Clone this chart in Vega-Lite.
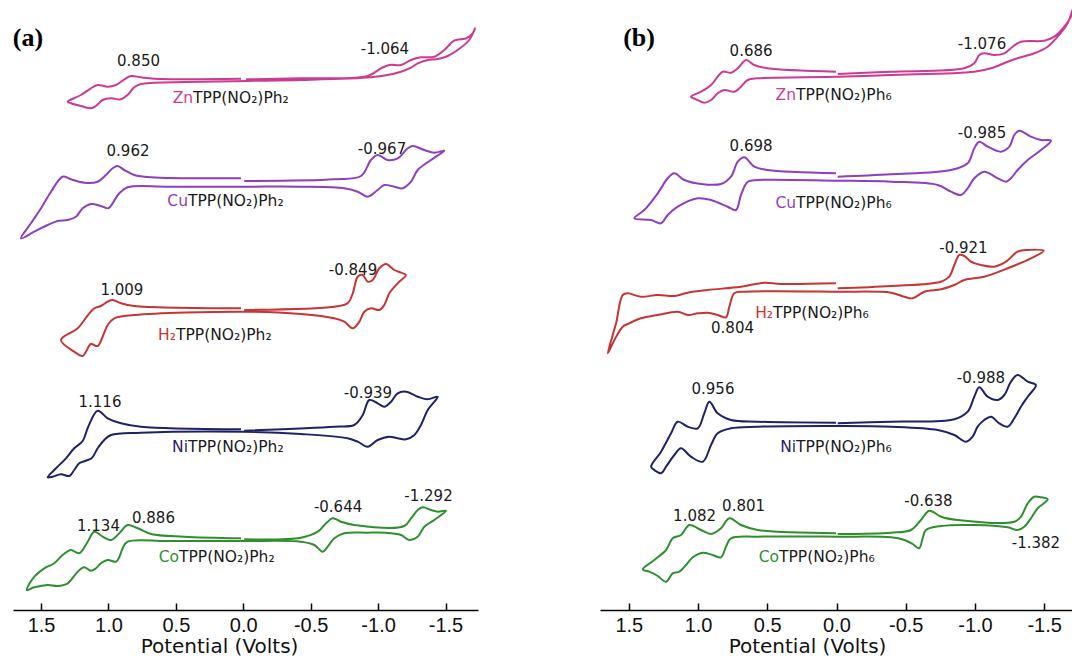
{
"$schema": "https://vega.github.io/schema/vega-lite/v6.json",
"padding": {"left": 12, "top": 0, "right": 0, "bottom": 0},
"spacing": 122,
"config": {"view": {"stroke": null}},
"datasets": {
"curves": [
{"p":"a","c":"Zn","i":0,"v":-0.020,"y":53.07},{"p":"a","c":"Zn","i":1,"v":-0.428,"y":53.17},{"p":"a","c":"Zn","i":2,"v":-0.923,"y":53.40},{"p":"a","c":"Zn","i":3,"v":-1.021,"y":54.17},{"p":"a","c":"Zn","i":4,"v":-1.083,"y":54.50},{"p":"a","c":"Zn","i":5,"v":-1.170,"y":54.50},{"p":"a","c":"Zn","i":6,"v":-1.244,"y":55.00},{"p":"a","c":"Zn","i":7,"v":-1.318,"y":55.27},{"p":"a","c":"Zn","i":8,"v":-1.417,"y":55.33},{"p":"a","c":"Zn","i":9,"v":-1.491,"y":56.00},{"p":"a","c":"Zn","i":10,"v":-1.565,"y":56.93},{"p":"a","c":"Zn","i":11,"v":-1.652,"y":57.17},{"p":"a","c":"Zn","i":12,"v":-1.702,"y":57.67},{"p":"a","c":"Zn","i":13,"v":-1.719,"y":58.17},{"p":"a","c":"Zn","i":14,"v":-1.676,"y":57.00},{"p":"a","c":"Zn","i":15,"v":-1.590,"y":56.00},{"p":"a","c":"Zn","i":16,"v":-1.516,"y":55.40},{"p":"a","c":"Zn","i":17,"v":-1.442,"y":55.10},{"p":"a","c":"Zn","i":18,"v":-1.368,"y":55.00},{"p":"a","c":"Zn","i":19,"v":-1.294,"y":54.67},{"p":"a","c":"Zn","i":20,"v":-1.244,"y":54.23},{"p":"a","c":"Zn","i":21,"v":-1.170,"y":53.83},{"p":"a","c":"Zn","i":22,"v":-1.071,"y":53.50},{"p":"a","c":"Zn","i":23,"v":-0.947,"y":53.27},{"p":"a","c":"Zn","i":24,"v":-0.428,"y":53.00},{"p":"a","c":"Zn","i":25,"v":-0.020,"y":52.90},{"p":"a","c":"Zn","i":26,"v":0.660,"y":52.73},{"p":"a","c":"Zn","i":27,"v":0.759,"y":52.60},{"p":"a","c":"Zn","i":28,"v":0.809,"y":52.27},{"p":"a","c":"Zn","i":29,"v":0.858,"y":51.50},{"p":"a","c":"Zn","i":30,"v":0.907,"y":51.07},{"p":"a","c":"Zn","i":31,"v":0.981,"y":51.17},{"p":"a","c":"Zn","i":32,"v":1.043,"y":51.00},{"p":"a","c":"Zn","i":33,"v":1.093,"y":50.40},{"p":"a","c":"Zn","i":34,"v":1.130,"y":50.17},{"p":"a","c":"Zn","i":35,"v":1.204,"y":50.40},{"p":"a","c":"Zn","i":36,"v":1.278,"y":50.67},{"p":"a","c":"Zn","i":37,"v":1.303,"y":50.83},{"p":"a","c":"Zn","i":38,"v":1.204,"y":51.50},{"p":"a","c":"Zn","i":39,"v":1.130,"y":52.17},{"p":"a","c":"Zn","i":40,"v":1.080,"y":52.50},{"p":"a","c":"Zn","i":41,"v":1.006,"y":52.33},{"p":"a","c":"Zn","i":42,"v":0.944,"y":52.50},{"p":"a","c":"Zn","i":43,"v":0.870,"y":53.17},{"p":"a","c":"Zn","i":44,"v":0.833,"y":53.40},{"p":"a","c":"Zn","i":45,"v":0.759,"y":53.27},{"p":"a","c":"Zn","i":46,"v":0.660,"y":53.13},{"p":"a","c":"Zn","i":47,"v":0.017,"y":53.13},
{"p":"a","c":"Cu","i":0,"v":-0.007,"y":42.90},{"p":"a","c":"Cu","i":1,"v":-0.675,"y":43.07},{"p":"a","c":"Cu","i":2,"v":-0.873,"y":43.40},{"p":"a","c":"Cu","i":3,"v":-0.947,"y":45.00},{"p":"a","c":"Cu","i":4,"v":-0.997,"y":45.50},{"p":"a","c":"Cu","i":5,"v":-1.071,"y":45.00},{"p":"a","c":"Cu","i":6,"v":-1.145,"y":45.17},{"p":"a","c":"Cu","i":7,"v":-1.220,"y":46.17},{"p":"a","c":"Cu","i":8,"v":-1.257,"y":46.40},{"p":"a","c":"Cu","i":9,"v":-1.343,"y":46.00},{"p":"a","c":"Cu","i":10,"v":-1.417,"y":45.73},{"p":"a","c":"Cu","i":11,"v":-1.491,"y":45.93},{"p":"a","c":"Cu","i":12,"v":-1.392,"y":45.00},{"p":"a","c":"Cu","i":13,"v":-1.294,"y":44.00},{"p":"a","c":"Cu","i":14,"v":-1.244,"y":42.83},{"p":"a","c":"Cu","i":15,"v":-1.182,"y":42.17},{"p":"a","c":"Cu","i":16,"v":-1.120,"y":42.33},{"p":"a","c":"Cu","i":17,"v":-1.046,"y":42.50},{"p":"a","c":"Cu","i":18,"v":-0.997,"y":42.00},{"p":"a","c":"Cu","i":19,"v":-0.923,"y":41.33},{"p":"a","c":"Cu","i":20,"v":-0.849,"y":41.83},{"p":"a","c":"Cu","i":21,"v":-0.749,"y":42.17},{"p":"a","c":"Cu","i":22,"v":-0.428,"y":42.33},{"p":"a","c":"Cu","i":23,"v":-0.007,"y":42.33},{"p":"a","c":"Cu","i":24,"v":0.561,"y":42.33},{"p":"a","c":"Cu","i":25,"v":0.858,"y":42.27},{"p":"a","c":"Cu","i":26,"v":0.920,"y":41.67},{"p":"a","c":"Cu","i":27,"v":0.969,"y":40.67},{"p":"a","c":"Cu","i":28,"v":1.001,"y":40.17},{"p":"a","c":"Cu","i":29,"v":1.056,"y":40.40},{"p":"a","c":"Cu","i":30,"v":1.130,"y":40.60},{"p":"a","c":"Cu","i":31,"v":1.191,"y":40.17},{"p":"a","c":"Cu","i":32,"v":1.241,"y":39.33},{"p":"a","c":"Cu","i":33,"v":1.303,"y":39.00},{"p":"a","c":"Cu","i":34,"v":1.377,"y":38.90},{"p":"a","c":"Cu","i":35,"v":1.451,"y":38.50},{"p":"a","c":"Cu","i":36,"v":1.550,"y":37.83},{"p":"a","c":"Cu","i":37,"v":1.649,"y":37.17},{"p":"a","c":"Cu","i":38,"v":1.575,"y":38.67},{"p":"a","c":"Cu","i":39,"v":1.500,"y":40.17},{"p":"a","c":"Cu","i":40,"v":1.426,"y":41.83},{"p":"a","c":"Cu","i":41,"v":1.340,"y":43.33},{"p":"a","c":"Cu","i":42,"v":1.278,"y":43.07},{"p":"a","c":"Cu","i":43,"v":1.180,"y":42.73},{"p":"a","c":"Cu","i":44,"v":1.080,"y":42.83},{"p":"a","c":"Cu","i":45,"v":1.019,"y":43.50},{"p":"a","c":"Cu","i":46,"v":0.969,"y":44.17},{"p":"a","c":"Cu","i":47,"v":0.932,"y":44.40},{"p":"a","c":"Cu","i":48,"v":0.883,"y":44.00},{"p":"a","c":"Cu","i":49,"v":0.809,"y":43.50},{"p":"a","c":"Cu","i":50,"v":0.685,"y":43.27},{"p":"a","c":"Cu","i":51,"v":0.017,"y":43.17},
{"p":"a","c":"H2","i":0,"v":-0.007,"y":30.00},{"p":"a","c":"H2","i":1,"v":-0.675,"y":30.33},{"p":"a","c":"H2","i":2,"v":-0.774,"y":30.67},{"p":"a","c":"H2","i":3,"v":-0.812,"y":31.67},{"p":"a","c":"H2","i":4,"v":-0.849,"y":33.33},{"p":"a","c":"H2","i":5,"v":-0.886,"y":33.50},{"p":"a","c":"H2","i":6,"v":-0.923,"y":32.83},{"p":"a","c":"H2","i":7,"v":-0.960,"y":33.00},{"p":"a","c":"H2","i":8,"v":-1.009,"y":34.17},{"p":"a","c":"H2","i":9,"v":-1.059,"y":34.60},{"p":"a","c":"H2","i":10,"v":-1.120,"y":34.00},{"p":"a","c":"H2","i":11,"v":-1.170,"y":33.73},{"p":"a","c":"H2","i":12,"v":-1.206,"y":33.50},{"p":"a","c":"H2","i":13,"v":-1.145,"y":32.67},{"p":"a","c":"H2","i":14,"v":-1.083,"y":31.67},{"p":"a","c":"H2","i":15,"v":-1.046,"y":30.50},{"p":"a","c":"H2","i":16,"v":-1.009,"y":30.00},{"p":"a","c":"H2","i":17,"v":-0.947,"y":30.17},{"p":"a","c":"H2","i":18,"v":-0.898,"y":29.83},{"p":"a","c":"H2","i":19,"v":-0.861,"y":28.83},{"p":"a","c":"H2","i":20,"v":-0.812,"y":28.17},{"p":"a","c":"H2","i":21,"v":-0.749,"y":28.83},{"p":"a","c":"H2","i":22,"v":-0.675,"y":29.17},{"p":"a","c":"H2","i":23,"v":-0.428,"y":29.60},{"p":"a","c":"H2","i":24,"v":-0.007,"y":29.83},{"p":"a","c":"H2","i":25,"v":0.809,"y":29.50},{"p":"a","c":"H2","i":26,"v":0.957,"y":29.17},{"p":"a","c":"H2","i":27,"v":1.006,"y":28.50},{"p":"a","c":"H2","i":28,"v":1.043,"y":27.33},{"p":"a","c":"H2","i":29,"v":1.080,"y":26.40},{"p":"a","c":"H2","i":30,"v":1.130,"y":26.60},{"p":"a","c":"H2","i":31,"v":1.167,"y":25.83},{"p":"a","c":"H2","i":32,"v":1.191,"y":25.40},{"p":"a","c":"H2","i":33,"v":1.254,"y":25.83},{"p":"a","c":"H2","i":34,"v":1.352,"y":27.00},{"p":"a","c":"H2","i":35,"v":1.228,"y":28.17},{"p":"a","c":"H2","i":36,"v":1.142,"y":29.67},{"p":"a","c":"H2","i":37,"v":1.105,"y":30.17},{"p":"a","c":"H2","i":38,"v":1.056,"y":30.40},{"p":"a","c":"H2","i":39,"v":1.006,"y":30.83},{"p":"a","c":"H2","i":40,"v":0.969,"y":31.00},{"p":"a","c":"H2","i":41,"v":0.907,"y":30.67},{"p":"a","c":"H2","i":42,"v":0.809,"y":30.40},{"p":"a","c":"H2","i":43,"v":0.017,"y":30.17},
{"p":"a","c":"Ni","i":0,"v":-0.007,"y":17.93},{"p":"a","c":"Ni","i":1,"v":-0.675,"y":18.33},{"p":"a","c":"Ni","i":2,"v":-0.823,"y":18.50},{"p":"a","c":"Ni","i":3,"v":-0.886,"y":19.50},{"p":"a","c":"Ni","i":4,"v":-0.935,"y":21.00},{"p":"a","c":"Ni","i":5,"v":-0.997,"y":20.67},{"p":"a","c":"Ni","i":6,"v":-1.046,"y":20.33},{"p":"a","c":"Ni","i":7,"v":-1.096,"y":20.83},{"p":"a","c":"Ni","i":8,"v":-1.145,"y":21.67},{"p":"a","c":"Ni","i":9,"v":-1.207,"y":21.83},{"p":"a","c":"Ni","i":10,"v":-1.294,"y":21.33},{"p":"a","c":"Ni","i":11,"v":-1.368,"y":21.07},{"p":"a","c":"Ni","i":12,"v":-1.442,"y":21.33},{"p":"a","c":"Ni","i":13,"v":-1.368,"y":20.00},{"p":"a","c":"Ni","i":14,"v":-1.318,"y":18.50},{"p":"a","c":"Ni","i":15,"v":-1.269,"y":17.50},{"p":"a","c":"Ni","i":16,"v":-1.207,"y":17.07},{"p":"a","c":"Ni","i":17,"v":-1.145,"y":17.17},{"p":"a","c":"Ni","i":18,"v":-1.083,"y":17.33},{"p":"a","c":"Ni","i":19,"v":-0.997,"y":17.00},{"p":"a","c":"Ni","i":20,"v":-0.923,"y":16.33},{"p":"a","c":"Ni","i":21,"v":-0.849,"y":16.83},{"p":"a","c":"Ni","i":22,"v":-0.774,"y":17.17},{"p":"a","c":"Ni","i":23,"v":-0.428,"y":17.60},{"p":"a","c":"Ni","i":24,"v":-0.007,"y":17.83},{"p":"a","c":"Ni","i":25,"v":0.759,"y":17.73},{"p":"a","c":"Ni","i":26,"v":0.981,"y":17.50},{"p":"a","c":"Ni","i":27,"v":1.031,"y":17.00},{"p":"a","c":"Ni","i":28,"v":1.080,"y":16.17},{"p":"a","c":"Ni","i":29,"v":1.125,"y":15.17},{"p":"a","c":"Ni","i":30,"v":1.167,"y":14.93},{"p":"a","c":"Ni","i":31,"v":1.217,"y":14.67},{"p":"a","c":"Ni","i":32,"v":1.254,"y":14.00},{"p":"a","c":"Ni","i":33,"v":1.291,"y":13.40},{"p":"a","c":"Ni","i":34,"v":1.352,"y":13.57},{"p":"a","c":"Ni","i":35,"v":1.414,"y":13.33},{"p":"a","c":"Ni","i":36,"v":1.451,"y":13.27},{"p":"a","c":"Ni","i":37,"v":1.389,"y":14.17},{"p":"a","c":"Ni","i":38,"v":1.315,"y":15.17},{"p":"a","c":"Ni","i":39,"v":1.254,"y":16.17},{"p":"a","c":"Ni","i":40,"v":1.191,"y":16.90},{"p":"a","c":"Ni","i":41,"v":1.150,"y":18.33},{"p":"a","c":"Ni","i":42,"v":1.080,"y":19.93},{"p":"a","c":"Ni","i":43,"v":1.006,"y":19.17},{"p":"a","c":"Ni","i":44,"v":0.907,"y":18.67},{"p":"a","c":"Ni","i":45,"v":0.759,"y":18.33},{"p":"a","c":"Ni","i":46,"v":0.017,"y":18.07},
{"p":"a","c":"Co","i":0,"v":-0.007,"y":7.07},{"p":"a","c":"Co","i":1,"v":-0.428,"y":7.23},{"p":"a","c":"Co","i":2,"v":-0.552,"y":7.83},{"p":"a","c":"Co","i":3,"v":-0.614,"y":8.67},{"p":"a","c":"Co","i":4,"v":-0.663,"y":9.17},{"p":"a","c":"Co","i":5,"v":-0.725,"y":8.83},{"p":"a","c":"Co","i":6,"v":-0.823,"y":8.50},{"p":"a","c":"Co","i":7,"v":-1.194,"y":8.40},{"p":"a","c":"Co","i":8,"v":-1.244,"y":9.17},{"p":"a","c":"Co","i":9,"v":-1.294,"y":10.00},{"p":"a","c":"Co","i":10,"v":-1.331,"y":10.27},{"p":"a","c":"Co","i":11,"v":-1.392,"y":10.00},{"p":"a","c":"Co","i":12,"v":-1.442,"y":9.83},{"p":"a","c":"Co","i":13,"v":-1.504,"y":9.93},{"p":"a","c":"Co","i":14,"v":-1.417,"y":9.00},{"p":"a","c":"Co","i":15,"v":-1.343,"y":8.33},{"p":"a","c":"Co","i":16,"v":-1.294,"y":7.33},{"p":"a","c":"Co","i":17,"v":-1.231,"y":7.00},{"p":"a","c":"Co","i":18,"v":-1.170,"y":7.50},{"p":"a","c":"Co","i":19,"v":-1.046,"y":7.73},{"p":"a","c":"Co","i":20,"v":-0.923,"y":7.73},{"p":"a","c":"Co","i":21,"v":-0.749,"y":7.67},{"p":"a","c":"Co","i":22,"v":-0.675,"y":7.17},{"p":"a","c":"Co","i":23,"v":-0.626,"y":6.33},{"p":"a","c":"Co","i":24,"v":-0.589,"y":5.83},{"p":"a","c":"Co","i":25,"v":-0.527,"y":6.50},{"p":"a","c":"Co","i":26,"v":-0.428,"y":6.83},{"p":"a","c":"Co","i":27,"v":-0.007,"y":6.90},{"p":"a","c":"Co","i":28,"v":0.561,"y":6.90},{"p":"a","c":"Co","i":29,"v":0.858,"y":6.83},{"p":"a","c":"Co","i":30,"v":0.895,"y":6.17},{"p":"a","c":"Co","i":31,"v":0.920,"y":5.27},{"p":"a","c":"Co","i":32,"v":0.944,"y":4.83},{"p":"a","c":"Co","i":33,"v":1.006,"y":5.00},{"p":"a","c":"Co","i":34,"v":1.056,"y":4.67},{"p":"a","c":"Co","i":35,"v":1.093,"y":4.17},{"p":"a","c":"Co","i":36,"v":1.130,"y":3.93},{"p":"a","c":"Co","i":37,"v":1.180,"y":4.27},{"p":"a","c":"Co","i":38,"v":1.228,"y":3.83},{"p":"a","c":"Co","i":39,"v":1.303,"y":2.67},{"p":"a","c":"Co","i":40,"v":1.377,"y":2.40},{"p":"a","c":"Co","i":41,"v":1.451,"y":2.50},{"p":"a","c":"Co","i":42,"v":1.550,"y":2.27},{"p":"a","c":"Co","i":43,"v":1.605,"y":2.00},{"p":"a","c":"Co","i":44,"v":1.550,"y":3.33},{"p":"a","c":"Co","i":45,"v":1.476,"y":4.17},{"p":"a","c":"Co","i":46,"v":1.402,"y":4.67},{"p":"a","c":"Co","i":47,"v":1.340,"y":5.50},{"p":"a","c":"Co","i":48,"v":1.278,"y":6.00},{"p":"a","c":"Co","i":49,"v":1.217,"y":5.67},{"p":"a","c":"Co","i":50,"v":1.154,"y":6.83},{"p":"a","c":"Co","i":51,"v":1.105,"y":7.83},{"p":"a","c":"Co","i":52,"v":1.043,"y":7.33},{"p":"a","c":"Co","i":53,"v":0.981,"y":7.00},{"p":"a","c":"Co","i":54,"v":0.920,"y":7.67},{"p":"a","c":"Co","i":55,"v":0.858,"y":8.50},{"p":"a","c":"Co","i":56,"v":0.783,"y":8.17},{"p":"a","c":"Co","i":57,"v":0.685,"y":7.60},{"p":"a","c":"Co","i":58,"v":0.438,"y":7.33},{"p":"a","c":"Co","i":59,"v":0.017,"y":7.17},
{"p":"b","c":"Zn","i":0,"v":-0.009,"y":53.60},{"p":"b","c":"Zn","i":1,"v":-0.394,"y":53.83},{"p":"b","c":"Zn","i":2,"v":-0.923,"y":54.17},{"p":"b","c":"Zn","i":3,"v":-0.995,"y":54.67},{"p":"b","c":"Zn","i":4,"v":-1.031,"y":55.50},{"p":"b","c":"Zn","i":5,"v":-1.067,"y":55.67},{"p":"b","c":"Zn","i":6,"v":-1.139,"y":55.50},{"p":"b","c":"Zn","i":7,"v":-1.212,"y":55.67},{"p":"b","c":"Zn","i":8,"v":-1.272,"y":56.33},{"p":"b","c":"Zn","i":9,"v":-1.332,"y":56.83},{"p":"b","c":"Zn","i":10,"v":-1.500,"y":56.93},{"p":"b","c":"Zn","i":11,"v":-1.573,"y":57.33},{"p":"b","c":"Zn","i":12,"v":-1.645,"y":58.33},{"p":"b","c":"Zn","i":13,"v":-1.693,"y":59.33},{"p":"b","c":"Zn","i":14,"v":-1.708,"y":60.17},{"p":"b","c":"Zn","i":15,"v":-1.669,"y":58.67},{"p":"b","c":"Zn","i":16,"v":-1.597,"y":57.33},{"p":"b","c":"Zn","i":17,"v":-1.525,"y":56.33},{"p":"b","c":"Zn","i":18,"v":-1.428,"y":55.67},{"p":"b","c":"Zn","i":19,"v":-1.308,"y":55.17},{"p":"b","c":"Zn","i":20,"v":-1.236,"y":54.83},{"p":"b","c":"Zn","i":21,"v":-1.116,"y":54.17},{"p":"b","c":"Zn","i":22,"v":-0.995,"y":53.83},{"p":"b","c":"Zn","i":23,"v":-0.394,"y":53.50},{"p":"b","c":"Zn","i":24,"v":-0.009,"y":53.33},{"p":"b","c":"Zn","i":25,"v":0.569,"y":53.17},{"p":"b","c":"Zn","i":26,"v":0.641,"y":53.00},{"p":"b","c":"Zn","i":27,"v":0.690,"y":52.33},{"p":"b","c":"Zn","i":28,"v":0.738,"y":51.83},{"p":"b","c":"Zn","i":29,"v":0.810,"y":52.00},{"p":"b","c":"Zn","i":30,"v":0.858,"y":51.67},{"p":"b","c":"Zn","i":31,"v":0.906,"y":51.00},{"p":"b","c":"Zn","i":32,"v":0.955,"y":50.73},{"p":"b","c":"Zn","i":33,"v":1.014,"y":51.07},{"p":"b","c":"Zn","i":34,"v":1.051,"y":51.33},{"p":"b","c":"Zn","i":35,"v":0.978,"y":51.83},{"p":"b","c":"Zn","i":36,"v":0.906,"y":52.50},{"p":"b","c":"Zn","i":37,"v":0.858,"y":53.33},{"p":"b","c":"Zn","i":38,"v":0.822,"y":53.83},{"p":"b","c":"Zn","i":39,"v":0.762,"y":53.73},{"p":"b","c":"Zn","i":40,"v":0.713,"y":54.17},{"p":"b","c":"Zn","i":41,"v":0.653,"y":55.00},{"p":"b","c":"Zn","i":42,"v":0.594,"y":54.50},{"p":"b","c":"Zn","i":43,"v":0.497,"y":54.17},{"p":"b","c":"Zn","i":44,"v":0.004,"y":53.83},
{"p":"b","c":"Cu","i":0,"v":-0.009,"y":43.33},{"p":"b","c":"Cu","i":1,"v":-0.394,"y":43.57},{"p":"b","c":"Cu","i":2,"v":-0.827,"y":44.00},{"p":"b","c":"Cu","i":3,"v":-0.947,"y":44.67},{"p":"b","c":"Cu","i":4,"v":-0.995,"y":46.17},{"p":"b","c":"Cu","i":5,"v":-1.031,"y":46.83},{"p":"b","c":"Cu","i":6,"v":-1.092,"y":46.33},{"p":"b","c":"Cu","i":7,"v":-1.188,"y":45.83},{"p":"b","c":"Cu","i":8,"v":-1.248,"y":46.33},{"p":"b","c":"Cu","i":9,"v":-1.284,"y":47.50},{"p":"b","c":"Cu","i":10,"v":-1.320,"y":47.93},{"p":"b","c":"Cu","i":11,"v":-1.404,"y":47.33},{"p":"b","c":"Cu","i":12,"v":-1.477,"y":47.00},{"p":"b","c":"Cu","i":13,"v":-1.549,"y":46.93},{"p":"b","c":"Cu","i":14,"v":-1.477,"y":46.00},{"p":"b","c":"Cu","i":15,"v":-1.381,"y":45.00},{"p":"b","c":"Cu","i":16,"v":-1.308,"y":44.00},{"p":"b","c":"Cu","i":17,"v":-1.260,"y":43.17},{"p":"b","c":"Cu","i":18,"v":-1.224,"y":42.83},{"p":"b","c":"Cu","i":19,"v":-1.164,"y":43.17},{"p":"b","c":"Cu","i":20,"v":-1.067,"y":43.83},{"p":"b","c":"Cu","i":21,"v":-0.995,"y":43.17},{"p":"b","c":"Cu","i":22,"v":-0.947,"y":42.17},{"p":"b","c":"Cu","i":23,"v":-0.899,"y":41.50},{"p":"b","c":"Cu","i":24,"v":-0.827,"y":41.83},{"p":"b","c":"Cu","i":25,"v":-0.731,"y":42.50},{"p":"b","c":"Cu","i":26,"v":-0.394,"y":42.83},{"p":"b","c":"Cu","i":27,"v":-0.009,"y":42.93},{"p":"b","c":"Cu","i":28,"v":0.569,"y":43.00},{"p":"b","c":"Cu","i":29,"v":0.641,"y":42.83},{"p":"b","c":"Cu","i":30,"v":0.690,"y":41.50},{"p":"b","c":"Cu","i":31,"v":0.726,"y":40.00},{"p":"b","c":"Cu","i":32,"v":0.786,"y":40.33},{"p":"b","c":"Cu","i":33,"v":0.906,"y":41.00},{"p":"b","c":"Cu","i":34,"v":1.002,"y":41.17},{"p":"b","c":"Cu","i":35,"v":1.147,"y":40.33},{"p":"b","c":"Cu","i":36,"v":1.219,"y":39.50},{"p":"b","c":"Cu","i":37,"v":1.267,"y":38.67},{"p":"b","c":"Cu","i":38,"v":1.339,"y":39.00},{"p":"b","c":"Cu","i":39,"v":1.460,"y":39.17},{"p":"b","c":"Cu","i":40,"v":1.388,"y":40.00},{"p":"b","c":"Cu","i":41,"v":1.291,"y":41.67},{"p":"b","c":"Cu","i":42,"v":1.219,"y":43.17},{"p":"b","c":"Cu","i":43,"v":1.171,"y":43.67},{"p":"b","c":"Cu","i":44,"v":1.099,"y":43.00},{"p":"b","c":"Cu","i":45,"v":0.978,"y":42.60},{"p":"b","c":"Cu","i":46,"v":0.834,"y":42.60},{"p":"b","c":"Cu","i":47,"v":0.762,"y":43.33},{"p":"b","c":"Cu","i":48,"v":0.713,"y":44.83},{"p":"b","c":"Cu","i":49,"v":0.666,"y":45.27},{"p":"b","c":"Cu","i":50,"v":0.594,"y":44.33},{"p":"b","c":"Cu","i":51,"v":0.497,"y":44.00},{"p":"b","c":"Cu","i":52,"v":0.004,"y":43.67},
{"p":"b","c":"H2","i":0,"v":-0.009,"y":32.17},{"p":"b","c":"H2","i":1,"v":-0.394,"y":32.40},{"p":"b","c":"H2","i":2,"v":-0.755,"y":32.83},{"p":"b","c":"H2","i":3,"v":-0.814,"y":33.33},{"p":"b","c":"H2","i":4,"v":-0.851,"y":34.50},{"p":"b","c":"H2","i":5,"v":-0.887,"y":35.50},{"p":"b","c":"H2","i":6,"v":-0.923,"y":35.40},{"p":"b","c":"H2","i":7,"v":-0.971,"y":34.83},{"p":"b","c":"H2","i":8,"v":-1.043,"y":34.50},{"p":"b","c":"H2","i":9,"v":-1.139,"y":34.33},{"p":"b","c":"H2","i":10,"v":-1.224,"y":34.83},{"p":"b","c":"H2","i":11,"v":-1.308,"y":35.83},{"p":"b","c":"H2","i":12,"v":-1.381,"y":36.00},{"p":"b","c":"H2","i":13,"v":-1.496,"y":35.93},{"p":"b","c":"H2","i":14,"v":-1.404,"y":35.17},{"p":"b","c":"H2","i":15,"v":-1.236,"y":34.17},{"p":"b","c":"H2","i":16,"v":-1.067,"y":33.33},{"p":"b","c":"H2","i":17,"v":-0.923,"y":33.00},{"p":"b","c":"H2","i":18,"v":-0.851,"y":32.50},{"p":"b","c":"H2","i":19,"v":-0.755,"y":32.07},{"p":"b","c":"H2","i":20,"v":-0.634,"y":31.83},{"p":"b","c":"H2","i":21,"v":-0.550,"y":31.17},{"p":"b","c":"H2","i":22,"v":-0.490,"y":31.33},{"p":"b","c":"H2","i":23,"v":-0.394,"y":31.73},{"p":"b","c":"H2","i":24,"v":-0.009,"y":31.83},{"p":"b","c":"H2","i":25,"v":0.666,"y":31.83},{"p":"b","c":"H2","i":26,"v":0.738,"y":31.67},{"p":"b","c":"H2","i":27,"v":0.774,"y":30.33},{"p":"b","c":"H2","i":28,"v":0.798,"y":29.27},{"p":"b","c":"H2","i":29,"v":0.858,"y":29.50},{"p":"b","c":"H2","i":30,"v":0.930,"y":29.73},{"p":"b","c":"H2","i":31,"v":1.002,"y":29.67},{"p":"b","c":"H2","i":32,"v":1.074,"y":29.50},{"p":"b","c":"H2","i":33,"v":1.147,"y":29.83},{"p":"b","c":"H2","i":34,"v":1.291,"y":29.50},{"p":"b","c":"H2","i":35,"v":1.412,"y":29.17},{"p":"b","c":"H2","i":36,"v":1.508,"y":28.60},{"p":"b","c":"H2","i":37,"v":1.544,"y":28.33},{"p":"b","c":"H2","i":38,"v":1.604,"y":27.00},{"p":"b","c":"H2","i":39,"v":1.652,"y":25.67},{"p":"b","c":"H2","i":40,"v":1.592,"y":28.67},{"p":"b","c":"H2","i":41,"v":1.544,"y":31.50},{"p":"b","c":"H2","i":42,"v":1.508,"y":31.67},{"p":"b","c":"H2","i":43,"v":1.412,"y":31.33},{"p":"b","c":"H2","i":44,"v":1.291,"y":31.50},{"p":"b","c":"H2","i":45,"v":1.171,"y":31.40},{"p":"b","c":"H2","i":46,"v":1.074,"y":31.73},{"p":"b","c":"H2","i":47,"v":0.930,"y":32.00},{"p":"b","c":"H2","i":48,"v":0.690,"y":32.33},{"p":"b","c":"H2","i":49,"v":0.521,"y":32.73},{"p":"b","c":"H2","i":50,"v":0.401,"y":32.60},{"p":"b","c":"H2","i":51,"v":0.004,"y":32.67},
{"p":"b","c":"Ni","i":0,"v":-0.009,"y":18.67},{"p":"b","c":"Ni","i":1,"v":-0.394,"y":18.83},{"p":"b","c":"Ni","i":2,"v":-0.851,"y":19.07},{"p":"b","c":"Ni","i":3,"v":-0.947,"y":19.83},{"p":"b","c":"Ni","i":4,"v":-0.995,"y":21.33},{"p":"b","c":"Ni","i":5,"v":-1.031,"y":22.27},{"p":"b","c":"Ni","i":6,"v":-1.092,"y":21.33},{"p":"b","c":"Ni","i":7,"v":-1.164,"y":21.00},{"p":"b","c":"Ni","i":8,"v":-1.212,"y":21.50},{"p":"b","c":"Ni","i":9,"v":-1.260,"y":22.83},{"p":"b","c":"Ni","i":10,"v":-1.308,"y":23.50},{"p":"b","c":"Ni","i":11,"v":-1.381,"y":22.83},{"p":"b","c":"Ni","i":12,"v":-1.440,"y":22.50},{"p":"b","c":"Ni","i":13,"v":-1.381,"y":21.33},{"p":"b","c":"Ni","i":14,"v":-1.332,"y":20.33},{"p":"b","c":"Ni","i":15,"v":-1.284,"y":19.17},{"p":"b","c":"Ni","i":16,"v":-1.236,"y":18.33},{"p":"b","c":"Ni","i":17,"v":-1.175,"y":18.67},{"p":"b","c":"Ni","i":18,"v":-1.116,"y":19.33},{"p":"b","c":"Ni","i":19,"v":-1.067,"y":19.00},{"p":"b","c":"Ni","i":20,"v":-1.019,"y":18.33},{"p":"b","c":"Ni","i":21,"v":-0.983,"y":17.33},{"p":"b","c":"Ni","i":22,"v":-0.935,"y":16.83},{"p":"b","c":"Ni","i":23,"v":-0.851,"y":17.50},{"p":"b","c":"Ni","i":24,"v":-0.731,"y":18.00},{"p":"b","c":"Ni","i":25,"v":-0.394,"y":18.33},{"p":"b","c":"Ni","i":26,"v":-0.009,"y":18.40},{"p":"b","c":"Ni","i":27,"v":0.569,"y":18.33},{"p":"b","c":"Ni","i":28,"v":0.762,"y":18.17},{"p":"b","c":"Ni","i":29,"v":0.858,"y":17.67},{"p":"b","c":"Ni","i":30,"v":0.906,"y":16.50},{"p":"b","c":"Ni","i":31,"v":0.966,"y":14.83},{"p":"b","c":"Ni","i":32,"v":1.051,"y":15.33},{"p":"b","c":"Ni","i":33,"v":1.123,"y":16.17},{"p":"b","c":"Ni","i":34,"v":1.171,"y":15.50},{"p":"b","c":"Ni","i":35,"v":1.231,"y":14.33},{"p":"b","c":"Ni","i":36,"v":1.267,"y":13.67},{"p":"b","c":"Ni","i":37,"v":1.316,"y":14.00},{"p":"b","c":"Ni","i":38,"v":1.339,"y":14.33},{"p":"b","c":"Ni","i":39,"v":1.267,"y":15.83},{"p":"b","c":"Ni","i":40,"v":1.195,"y":17.67},{"p":"b","c":"Ni","i":41,"v":1.147,"y":18.83},{"p":"b","c":"Ni","i":42,"v":1.074,"y":18.33},{"p":"b","c":"Ni","i":43,"v":1.002,"y":18.17},{"p":"b","c":"Ni","i":44,"v":0.955,"y":19.67},{"p":"b","c":"Ni","i":45,"v":0.918,"y":20.83},{"p":"b","c":"Ni","i":46,"v":0.858,"y":19.67},{"p":"b","c":"Ni","i":47,"v":0.762,"y":19.00},{"p":"b","c":"Ni","i":48,"v":0.569,"y":18.83},{"p":"b","c":"Ni","i":49,"v":0.004,"y":18.73},
{"p":"b","c":"Co","i":0,"v":-0.009,"y":7.60},{"p":"b","c":"Co","i":1,"v":-0.394,"y":7.73},{"p":"b","c":"Co","i":2,"v":-0.538,"y":8.00},{"p":"b","c":"Co","i":3,"v":-0.610,"y":9.00},{"p":"b","c":"Co","i":4,"v":-0.670,"y":9.93},{"p":"b","c":"Co","i":5,"v":-0.755,"y":9.33},{"p":"b","c":"Co","i":6,"v":-0.875,"y":9.00},{"p":"b","c":"Co","i":7,"v":-1.284,"y":8.83},{"p":"b","c":"Co","i":8,"v":-1.332,"y":9.33},{"p":"b","c":"Co","i":9,"v":-1.381,"y":10.67},{"p":"b","c":"Co","i":10,"v":-1.428,"y":11.33},{"p":"b","c":"Co","i":11,"v":-1.477,"y":11.27},{"p":"b","c":"Co","i":12,"v":-1.525,"y":11.07},{"p":"b","c":"Co","i":13,"v":-1.453,"y":10.17},{"p":"b","c":"Co","i":14,"v":-1.404,"y":9.17},{"p":"b","c":"Co","i":15,"v":-1.356,"y":8.33},{"p":"b","c":"Co","i":16,"v":-1.308,"y":8.00},{"p":"b","c":"Co","i":17,"v":-1.236,"y":8.27},{"p":"b","c":"Co","i":18,"v":-0.995,"y":8.50},{"p":"b","c":"Co","i":19,"v":-0.755,"y":8.40},{"p":"b","c":"Co","i":20,"v":-0.646,"y":8.00},{"p":"b","c":"Co","i":21,"v":-0.622,"y":7.17},{"p":"b","c":"Co","i":22,"v":-0.597,"y":6.17},{"p":"b","c":"Co","i":23,"v":-0.550,"y":6.60},{"p":"b","c":"Co","i":24,"v":-0.490,"y":7.00},{"p":"b","c":"Co","i":25,"v":-0.394,"y":7.27},{"p":"b","c":"Co","i":26,"v":-0.009,"y":7.33},{"p":"b","c":"Co","i":27,"v":0.569,"y":7.33},{"p":"b","c":"Co","i":28,"v":0.762,"y":7.17},{"p":"b","c":"Co","i":29,"v":0.798,"y":6.33},{"p":"b","c":"Co","i":30,"v":0.834,"y":5.27},{"p":"b","c":"Co","i":31,"v":0.894,"y":5.50},{"p":"b","c":"Co","i":32,"v":0.966,"y":5.73},{"p":"b","c":"Co","i":33,"v":1.038,"y":5.27},{"p":"b","c":"Co","i":34,"v":1.087,"y":4.50},{"p":"b","c":"Co","i":35,"v":1.135,"y":3.83},{"p":"b","c":"Co","i":36,"v":1.183,"y":3.67},{"p":"b","c":"Co","i":37,"v":1.231,"y":2.83},{"p":"b","c":"Co","i":38,"v":1.291,"y":3.40},{"p":"b","c":"Co","i":39,"v":1.352,"y":3.83},{"p":"b","c":"Co","i":40,"v":1.399,"y":4.07},{"p":"b","c":"Co","i":41,"v":1.316,"y":5.00},{"p":"b","c":"Co","i":42,"v":1.231,"y":6.00},{"p":"b","c":"Co","i":43,"v":1.183,"y":7.17},{"p":"b","c":"Co","i":44,"v":1.123,"y":7.50},{"p":"b","c":"Co","i":45,"v":1.063,"y":8.50},{"p":"b","c":"Co","i":46,"v":0.978,"y":8.00},{"p":"b","c":"Co","i":47,"v":0.906,"y":7.60},{"p":"b","c":"Co","i":48,"v":0.834,"y":8.17},{"p":"b","c":"Co","i":49,"v":0.774,"y":9.17},{"p":"b","c":"Co","i":50,"v":0.690,"y":8.50},{"p":"b","c":"Co","i":51,"v":0.569,"y":8.00},{"p":"b","c":"Co","i":52,"v":0.004,"y":7.67}
],
"peaks": [
{"p":"a","t":"0.850","v":0.777,"y":54.9},{"p":"a","t":"-1.064","v":-1.051,"y":56.1},
{"p":"a","t":"0.962","v":0.855,"y":45.9},{"p":"a","t":"-0.967","v":-1.029,"y":46.1},
{"p":"a","t":"1.009","v":0.900,"y":32.0},{"p":"a","t":"-0.849","v":-0.814,"y":34.0},
{"p":"a","t":"1.116","v":1.063,"y":20.8},{"p":"a","t":"-0.939","v":-0.925,"y":21.7},
{"p":"a","t":"1.134","v":1.074,"y":8.4},{"p":"a","t":"0.886","v":0.666,"y":9.25},{"p":"a","t":"-0.644","v":-0.703,"y":10.3},{"p":"a","t":"-1.292","v":-1.374,"y":11.4},
{"p":"b","t":"0.686","v":0.617,"y":55.9},{"p":"b","t":"-1.076","v":-1.051,"y":56.6},
{"p":"b","t":"0.698","v":0.617,"y":46.4},{"p":"b","t":"-0.985","v":-1.051,"y":47.7},
{"p":"b","t":"-0.921","v":-0.917,"y":36.2},{"p":"b","t":"0.804","v":0.751,"y":28.2},
{"p":"b","t":"0.956","v":0.892,"y":22.1},{"p":"b","t":"-0.988","v":-1.043,"y":23.2},
{"p":"b","t":"1.082","v":1.025,"y":9.4},{"p":"b","t":"0.801","v":0.671,"y":10.4},{"p":"b","t":"-0.638","v":-0.664,"y":10.9},{"p":"b","t":"-1.382","v":-1.440,"y":6.75}
],
"names": [
{"p":"a","c":"Zn","pre":"Zn","rest":"TPP(NO₂)Ph₂","v":0.372,"y":51.2},
{"p":"a","c":"Cu","pre":"Cu","rest":"TPP(NO₂)Ph₂","v":0.410,"y":40.9},
{"p":"a","c":"H2","pre":"H₂","rest":"TPP(NO₂)Ph₂","v":0.499,"y":27.5},
{"p":"a","c":"Ni","pre":"Ni","rest":"TPP(NO₂)Ph₂","v":0.410,"y":16.3},
{"p":"a","c":"Co","pre":"Co","rest":"TPP(NO₂)Ph₂","v":0.477,"y":5.3},
{"p":"b","c":"Zn","pre":"Zn","rest":"TPP(NO₂)Ph₆","v":0.292,"y":51.5},
{"p":"b","c":"Cu","pre":"Cu","rest":"TPP(NO₂)Ph₆","v":0.292,"y":40.7},
{"p":"b","c":"H2","pre":"H₂","rest":"TPP(NO₂)Ph₆","v":0.458,"y":29.7},
{"p":"b","c":"Ni","pre":"Ni","rest":"TPP(NO₂)Ph₆","v":0.292,"y":16.3},
{"p":"b","c":"Co","pre":"Co","rest":"TPP(NO₂)Ph₆","v":0.415,"y":5.3}
],
"tags": [
{"p":"a","t":"(a)","v":1.597,"y":57.2},
{"p":"b","t":"(b)","v":1.426,"y":57.2}
]
},
"hconcat": [
{
"width": 465, "height": 610,
"layer": [
{"data": {"name": "curves"}, "transform": [{"filter": "datum.p == 'a'"}],
 "mark": {"type": "line", "strokeWidth": 2, "strokeJoin": "round", "interpolate": "catmull-rom"},
 "encoding": {
  "x": {"field": "v", "type": "quantitative", "scale": {"domain": [-1.741, 1.708], "reverse": true, "nice": false, "zero": false},
   "axis": {"values": [-1.5,-1.25,-1,-0.75,-0.5,-0.25,0,0.25,0.5,0.75,1,1.25,1.5],
    "labelExpr": "datum.value % 0.5 == 0 ? (datum.value < 0 ? '-' : '') + format(abs(datum.value), '.1f') : ''",
    "tickSize": {"condition": {"test": "datum.value % 0.5 != 0", "value": -4}, "value": -7},
    "tickColor": "#000", "tickWidth": 1.5, "domainColor": "#000", "domainWidth": 1.5, "grid": false,
    "labelFont": "Liberation Sans", "labelFontSize": 20, "labelColor": "#111", "labelPadding": 12, "labelFlush": false, "labelOverlap": false,
    "title": "Potential (Volts)", "titleFont": "DejaVu Sans", "titleFontSize": 20, "titleFontWeight": "normal", "titleColor": "#111", "titlePadding": 1, "titleX": 206}},
  "y": {"field": "y", "type": "quantitative", "scale": {"domain": [0, 61], "nice": false, "zero": false}, "axis": null},
  "color": {"field": "c", "type": "nominal", "scale": {"domain": ["Zn","Cu","H2","Ni","Co"], "range": ["#cc3a92","#8c3fc0","#c63434","#1f2366","#2f8f2f"]}, "legend": null},
  "order": {"field": "i", "type": "quantitative"}
 }},
{"data": {"name": "peaks"}, "transform": [{"filter": "datum.p == 'a'"}],
 "mark": {"type": "text", "font": "DejaVu Sans", "fontSize": 15, "color": "#1a1a1a", "baseline": "middle"},
 "encoding": {"x": {"field": "v", "type": "quantitative"}, "y": {"field": "y", "type": "quantitative", "axis": null}, "text": {"field": "t"}}},
{"data": {"name": "names"}, "transform": [{"filter": "datum.p == 'a'"}],
 "mark": {"type": "text", "font": "DejaVu Sans", "fontSize": 15.5, "align": "right", "baseline": "middle"},
 "encoding": {"x": {"field": "v", "type": "quantitative"}, "y": {"field": "y", "type": "quantitative", "axis": null}, "text": {"field": "pre"},
  "color": {"field": "c", "type": "nominal", "legend": null}}},
{"data": {"name": "names"}, "transform": [{"filter": "datum.p == 'a'"}],
 "mark": {"type": "text", "font": "DejaVu Sans", "fontSize": 15.5, "align": "left", "baseline": "middle", "color": "#1a1a1a"},
 "encoding": {"x": {"field": "v", "type": "quantitative"}, "y": {"field": "y", "type": "quantitative", "axis": null}, "text": {"field": "rest"}}},
{"data": {"name": "tags"}, "transform": [{"filter": "datum.p == 'a'"}],
 "mark": {"type": "text", "font": "Liberation Serif", "fontSize": 26, "fontWeight": "bold", "baseline": "middle", "color": "#000"},
 "encoding": {"x": {"field": "v", "type": "quantitative"}, "y": {"field": "y", "type": "quantitative", "axis": null}, "text": {"field": "t"}}}
]
},
{
"width": 473, "height": 610,
"layer": [
{"data": {"name": "curves"}, "transform": [{"filter": "datum.p == 'b'"}],
 "mark": {"type": "line", "strokeWidth": 2, "strokeJoin": "round", "interpolate": "catmull-rom"},
 "encoding": {
  "x": {"field": "v", "type": "quantitative", "scale": {"domain": [-1.708, 1.708], "reverse": true, "nice": false, "zero": false},
   "axis": {"values": [-1.5,-1.25,-1,-0.75,-0.5,-0.25,0,0.25,0.5,0.75,1,1.25,1.5],
    "labelExpr": "datum.value % 0.5 == 0 ? (datum.value < 0 ? '-' : '') + format(abs(datum.value), '.1f') : ''",
    "tickSize": {"condition": {"test": "datum.value % 0.5 != 0", "value": -4}, "value": -7},
    "tickColor": "#000", "tickWidth": 1.5, "domainColor": "#000", "domainWidth": 1.5, "grid": false,
    "labelFont": "Liberation Sans", "labelFontSize": 20, "labelColor": "#111", "labelPadding": 12, "labelFlush": false, "labelOverlap": false,
    "title": "Potential (Volts)", "titleFont": "DejaVu Sans", "titleFontSize": 20, "titleFontWeight": "normal", "titleColor": "#111", "titlePadding": 1, "titleX": 207}},
  "y": {"field": "y", "type": "quantitative", "scale": {"domain": [0, 61], "nice": false, "zero": false}, "axis": null},
  "color": {"field": "c", "type": "nominal", "scale": {"domain": ["Zn","Cu","H2","Ni","Co"], "range": ["#cc3a92","#8c3fc0","#c63434","#1f2366","#2f8f2f"]}, "legend": null},
  "order": {"field": "i", "type": "quantitative"}
 }},
{"data": {"name": "peaks"}, "transform": [{"filter": "datum.p == 'b'"}],
 "mark": {"type": "text", "font": "DejaVu Sans", "fontSize": 15, "color": "#1a1a1a", "baseline": "middle"},
 "encoding": {"x": {"field": "v", "type": "quantitative"}, "y": {"field": "y", "type": "quantitative", "axis": null}, "text": {"field": "t"}}},
{"data": {"name": "names"}, "transform": [{"filter": "datum.p == 'b'"}],
 "mark": {"type": "text", "font": "DejaVu Sans", "fontSize": 15.5, "align": "right", "baseline": "middle"},
 "encoding": {"x": {"field": "v", "type": "quantitative"}, "y": {"field": "y", "type": "quantitative", "axis": null}, "text": {"field": "pre"},
  "color": {"field": "c", "type": "nominal", "legend": null}}},
{"data": {"name": "names"}, "transform": [{"filter": "datum.p == 'b'"}],
 "mark": {"type": "text", "font": "DejaVu Sans", "fontSize": 15.5, "align": "left", "baseline": "middle", "color": "#1a1a1a"},
 "encoding": {"x": {"field": "v", "type": "quantitative"}, "y": {"field": "y", "type": "quantitative", "axis": null}, "text": {"field": "rest"}}},
{"data": {"name": "tags"}, "transform": [{"filter": "datum.p == 'b'"}],
 "mark": {"type": "text", "font": "Liberation Serif", "fontSize": 26, "fontWeight": "bold", "baseline": "middle", "color": "#000"},
 "encoding": {"x": {"field": "v", "type": "quantitative"}, "y": {"field": "y", "type": "quantitative", "axis": null}, "text": {"field": "t"}}}
]
}
]
}
